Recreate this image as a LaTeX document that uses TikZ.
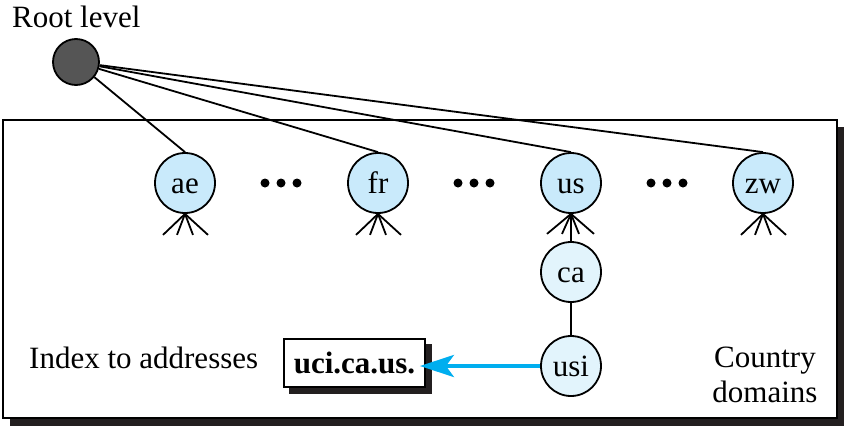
\documentclass[tikz,border=0pt]{standalone}
\usepackage{fontspec}
\setmainfont{Liberation Serif}
\usetikzlibrary{arrows.meta,calc}
\definecolor{nodeblue}{RGB}{201,234,251}
\definecolor{nodelight}{RGB}{226,244,252}
\definecolor{rootgray}{RGB}{85,85,85}
\definecolor{shadowc}{RGB}{35,31,32}
\definecolor{arrowc}{RGB}{0,174,239}
\begin{document}
\begin{tikzpicture}[x=1pt,y=-1pt,
  every node/.style={font=\fontsize{31}{35}\selectfont},
  dom/.style={circle,draw,line width=1.8pt,fill=nodeblue,minimum size=60pt,inner sep=0pt,text height=20pt,text depth=0pt},
  sub/.style={dom,fill=nodelight},
  conn/.style={line width=1.8pt},
  dotn/.style={circle,fill=black,inner sep=0pt,minimum size=9pt},
  lbl/.style={inner sep=0pt}
]
\useasboundingbox (0,0) rectangle (844,426);
% country box with shadow
\fill[shadowc] (10,127) rectangle (844,426);
\draw[line width=1.5pt,fill=white] (3,120) rectangle (837,418);

% root
\node[circle,draw,line width=1.8pt,fill=rootgray,minimum size=46pt,inner sep=0pt] (root) at (76,62) {};
\node[lbl,anchor=base west] (rootlbl) at (12,27) {Root level};

% domain nodes
\node[dom] (ae) at (185,183) {ae};
\node[dom] (fr) at (378,183) {fr};
\node[dom] (us) at (571,183) {us};
\node[dom] (zw) at (763,183) {zw};
\node[sub] (ca) at (571,272) {ca};
\node[sub] (usi) at (571,366) {usi};

% dots
\foreach \g/\cx in {a/281,b/474,c/667}{
  \node[dotn] (d\g1) at (\cx-16,183) {};
  \node[dotn] (d\g2) at (\cx,183) {};
  \node[dotn] (d\g3) at (\cx+16,183) {};
}

% root links
\foreach \n in {ae,fr,us,zw}{
  \draw[conn] (root) -- (\n.north);
}

% fans
\foreach \n in {ae,fr,zw}{
  \foreach \dx in {-22,-8,8,23}{
    \draw[conn] (\n.south) -- ++(\dx,21);
  }
}
\foreach \dx in {-24,-9,8,23}{
  \draw[conn] (us.south) -- ++(\dx,20);
}
\draw[conn] (us) -- (ca);
\draw[conn] (ca) -- (usi);

% index box
\node[fill=shadowc,minimum width=143pt,minimum height=50pt,inner sep=0pt] (ucish) at (360.5,369) {};
\node[draw,line width=1.8pt,fill=white,minimum width=141pt,minimum height=48pt,inner sep=0pt] (uci) at (354.5,363) {\textbf{uci.ca.us.}};
\draw[arrowc,line width=4pt,-{Stealth[length=34pt,width=22pt,inset=8pt]},shorten >=-6pt] (usi.west) -- (usi.west -| uci.east);

% labels
\node[lbl,anchor=base west] (idx) at (29,368) {Index to addresses};
\node[lbl,anchor=base,align=center] (cdom) at (765,402) {Country\\domains};
\end{tikzpicture}
\end{document}
